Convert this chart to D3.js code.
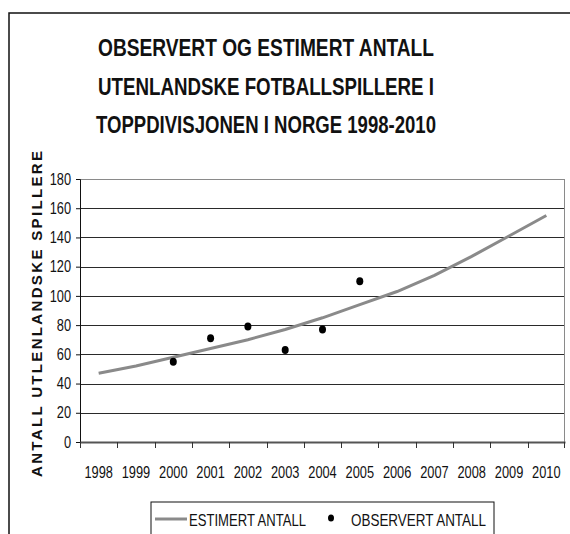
<!DOCTYPE html>
<html>
<head>
<meta charset="utf-8">
<script src="https://cdn.jsdelivr.net/npm/d3@7"></script>
<style>
  body { margin: 0; background: #fff; }
  svg { display: block; }
</style>
</head>
<body>
<div id="chart"></div>
<script>
'use strict';

// data
const years = ['1998', '1999', '2000', '2001', '2002', '2003', '2004',
               '2005', '2006', '2007', '2008', '2009', '2010'];
const estimated = [47, 52, 58, 64, 70, 77, 85, 94, 103, 114, 127, 141, 155];
const observedYears = ['2000', '2001', '2002', '2003', '2004', '2005'];
const observed = [55, 71, 79, 63, 77, 110];
const yTicks = [0, 20, 40, 60, 80, 100, 120, 140, 160, 180];
const titleLines = ['OBSERVERT OG ESTIMERT ANTALL',
                    'UTENLANDSKE FOTBALLSPILLERE I',
                    'TOPPDIVISJONEN I NORGE 1998-2010'];
const yLabel = 'ANTALL UTLENLANDSKE SPILLERE';
const legendNames = ['ESTIMERT ANTALL', 'OBSERVERT ANTALL'];

const W = 570, H = 534;
const plot = {left: 80, right: 565, top: 179, bottom: 442};
const sans = '"Liberation Sans", Arial, sans-serif';
const lineColor = '#8a8a8a';

// no narrow font installed, so squeeze the glyphs to fake Arial Narrow
function condense(sel, factor) {
    sel.each(function () {
        const len = this.getComputedTextLength();
        d3.select(this)
            .attr('textLength', len * factor)
            .attr('lengthAdjust', 'spacingAndGlyphs');
    });
}

const svg = d3.select('#chart').append('svg')
    .attr('width', W)
    .attr('height', H);

// outer frame (runs off the right and bottom edge)
svg.append('rect')
    .attr('x', 9).attr('y', 13)
    .attr('width', 600).attr('height', 600)
    .attr('fill', 'none')
    .attr('stroke', '#111')
    .attr('stroke-width', 1.5);

// title
svg.append('g')
    .attr('font-family', sans)
    .attr('font-weight', 'bold')
    .attr('font-size', 24)
    .attr('text-anchor', 'middle')
    .attr('fill', '#111')
    .selectAll('text')
    .data(titleLines)
    .join('text')
    .attr('x', 266)
    .attr('y', (d, i) => 56 + i * 38.5)
    .attr('textLength', (d, i) => [336, 336, 340][i])
    .attr('lengthAdjust', 'spacingAndGlyphs')
    .text(d => d);

const x = d3.scaleBand()
    .domain(years)
    .range([plot.left, plot.right]);

const y = d3.scaleLinear()
    .domain([0, 180])
    .range([plot.bottom, plot.top]);

// grid lines
svg.append('g')
    .selectAll('line')
    .data(yTicks.filter(d => d > 0))
    .join('line')
    .attr('x1', plot.left).attr('x2', plot.right)
    .attr('y1', d => Math.round(y(d)) + 0.5)
    .attr('y2', d => Math.round(y(d)) + 0.5)
    .attr('stroke', d => d === 180 ? '#8a8a8a' : '#2a2a2a')
    .attr('stroke-width', 1);

// right edge of plot area
svg.append('line')
    .attr('x1', plot.right - 0.5).attr('x2', plot.right - 0.5)
    .attr('y1', plot.top).attr('y2', plot.bottom)
    .attr('stroke', '#8a8a8a');

// y axis
const yAxis = svg.append('g')
    .attr('transform', `translate(${plot.left},0)`)
    .call(d3.axisLeft(y).tickValues(yTicks).tickSize(4).tickPadding(5));
yAxis.select('.domain').attr('stroke', '#111');
yAxis.selectAll('.tick line').attr('stroke', '#111');
yAxis.selectAll('text')
    .attr('font-family', sans)
    .attr('font-size', 16)
    .attr('fill', '#111')
    .call(condense, 0.8);

// x axis: labels centred in each band, ticks on the band edges
const xAxis = svg.append('g')
    .attr('transform', `translate(0,${plot.bottom})`)
    .call(d3.axisBottom(x).tickSize(0).tickPadding(25));
xAxis.select('.domain')
    .attr('stroke', '#555')
    .attr('stroke-width', 2);
xAxis.selectAll('text')
    .attr('font-family', sans)
    .attr('font-size', 16)
    .attr('fill', '#111')
    .call(condense, 0.8);

svg.append('g')
    .attr('stroke', '#333')
    .selectAll('line')
    .data(years.concat(['end']))
    .join('line')
    .attr('x1', d => d === 'end' ? plot.right - 0.5 : Math.round(x(d)) + 0.5)
    .attr('x2', d => d === 'end' ? plot.right - 0.5 : Math.round(x(d)) + 0.5)
    .attr('y1', plot.bottom)
    .attr('y2', plot.bottom + 6);

// y axis title
svg.append('text')
    .attr('transform', `translate(42,314) rotate(-90)`)
    .attr('text-anchor', 'middle')
    .attr('font-family', sans)
    .attr('font-weight', 'bold')
    .attr('font-size', 15)
    .attr('textLength', 326)
    .attr('lengthAdjust', 'spacing')
    .attr('fill', '#111')
    .text(yLabel);

// estimated curve
const line = d3.line()
    .x((d, i) => x(years[i]) + x.bandwidth() / 2)
    .y(d => y(d));

svg.append('path')
    .datum(estimated)
    .attr('d', line)
    .attr('fill', 'none')
    .attr('stroke', lineColor)
    .attr('stroke-width', 3);

// observed points
svg.append('g')
    .selectAll('ellipse')
    .data(observed)
    .join('ellipse')
    .attr('cx', (d, i) => x(observedYears[i]) + x.bandwidth() / 2)
    .attr('cy', d => y(d))
    .attr('rx', 3.5)
    .attr('ry', 4)
    .attr('fill', '#000');

// legend
const legend = svg.append('g');
legend.append('rect')
    .attr('x', 151).attr('y', 502)
    .attr('width', 343).attr('height', 60)
    .attr('fill', '#fff')
    .attr('stroke', '#111');
legend.append('line')
    .attr('x1', 155).attr('x2', 187)
    .attr('y1', 519).attr('y2', 519)
    .attr('stroke', lineColor)
    .attr('stroke-width', 3);
legend.append('ellipse')
    .attr('cx', 331).attr('cy', 518)
    .attr('rx', 3).attr('ry', 3.5)
    .attr('fill', '#000');
legend.selectAll('text.name')
    .data(legendNames)
    .join('text')
    .attr('class', 'name')
    .attr('x', (d, i) => [189, 351][i])
    .attr('y', 526)
    .attr('font-family', sans)
    .attr('font-size', 16.5)
    .attr('fill', '#111')
    .attr('textLength', (d, i) => [117, 135][i])
    .attr('lengthAdjust', 'spacingAndGlyphs')
    .text(d => d);
</script>
</body>
</html>
